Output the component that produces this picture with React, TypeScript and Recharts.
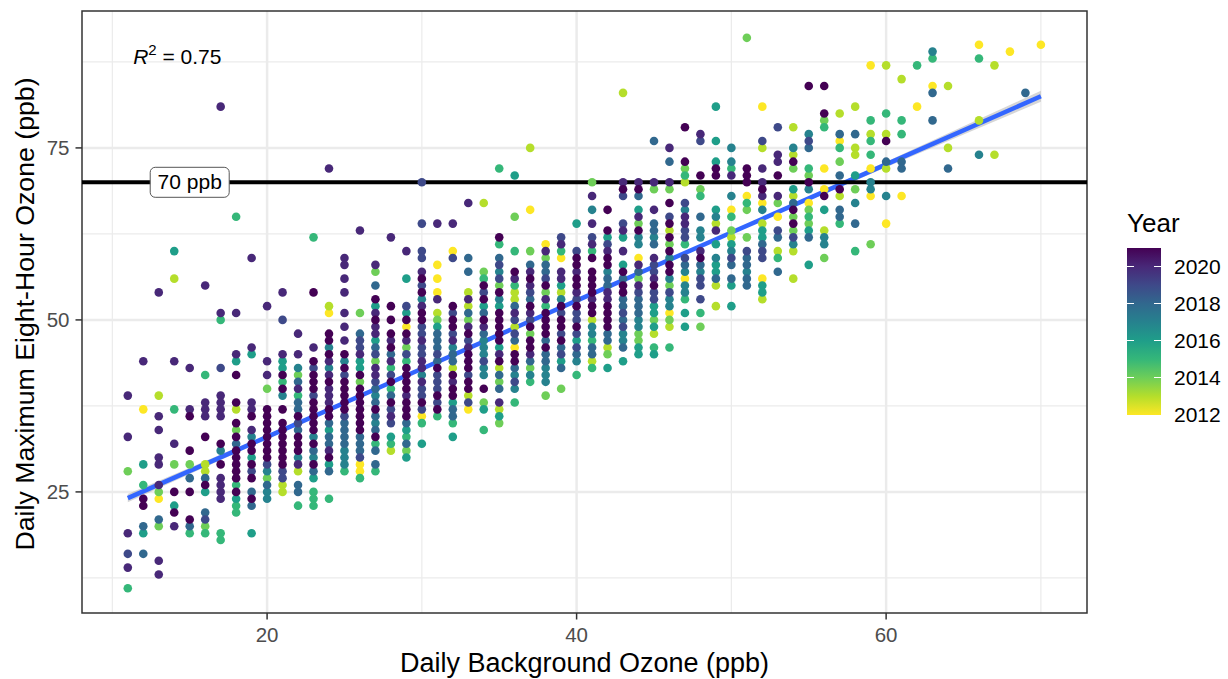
import React from "react";
import {
  ComposedChart,
  Scatter,
  Line,
  Area,
  XAxis,
  YAxis,
  CartesianGrid,
  ReferenceLine,
  ReferenceDot,
  ReferenceArea,
} from "recharts";

const FONT = "'Liberation Sans', Arial, sans-serif";

const years = [2012, 2013, 2014, 2015, 2016, 2017, 2018, 2019, 2020, 2021];
const viridis = ["#FDE725", "#B5DE2B", "#6ECE58", "#35B779", "#1F9E89", "#26828E", "#31688E", "#3E4989", "#482878", "#440154"];
const legendYears = [2020, 2018, 2016, 2014, 2012];

const xTicks = [20, 40, 60];
const xMinor = [10, 30, 50, 70];
const yTicks = [25, 50, 75];
const yMinor = [12.5, 37.5, 62.5, 87.5];

// linear fit and its confidence ribbon
const fitX = [11, 20, 30, 40, 50, 60, 70];
const fitY = [24.1, 33, 42.9, 52.8, 62.7, 72.6, 82.5];
const fitLow = [23.5, 32.7, 42.7, 52.65, 62.5, 72.2, 81.7];
const fitHigh = [24.7, 33.3, 43.1, 52.95, 62.9, 73, 83.3];

// one list per background ozone value: [two digit year, ...daily max values]
const x11 = [[20, 39, 33, 19, 14], [14, 28], [19, 16], [15, 11]];
const x12 = [[20, 44], [12, 37], [16, 29, 19], [15, 26], [21, 24, 23], [18, 20, 16]];
const x13 = [[13, 39], [20, 54, 36, 34, 30, 29, 26, 15, 13], [14, 25, 20], [12, 24], [18, 21]];
const x14 = [[16, 60, 23], [13, 56], [20, 44, 32, 20], [15, 37], [14, 29], [21, 25, 22]];
const x15 = [[20, 43, 37], [21, 36, 31, 25, 21], [14, 29], [18, 27, 20], [15, 19]];
const x16 = [[20, 55, 38, 37, 36], [15, 42, 19], [21, 33, 26], [13, 29, 28], [18, 27, 22], [16, 25], [19, 21], [14, 20]];
const x17 = [[20, 81, 51, 39, 38, 37, 36, 27, 26, 25, 24], [15, 50, 19, 18], [19, 43], [21, 32, 29], [17, 31]];
const x18 = [[15, 65, 26, 23, 22], [20, 51, 45], [16, 44, 24], [21, 42, 38, 35, 33, 31, 30, 29, 28, 27, 25], [13, 37], [14, 34], [18, 32]];
const x19 = [[20, 59, 46, 38, 37, 34], [16, 45, 30, 19], [21, 36, 32, 31, 29, 27, 24], [17, 33], [19, 28], [18, 25, 23]];
const x20 = [[20, 52, 44, 42], [14, 40, 27], [21, 37, 36, 35, 34, 33, 32, 31, 30], [19, 29], [17, 28, 25, 24], [18, 26]];
const x21 = [[20, 54, 45], [19, 50, 28, 27], [16, 44, 43], [21, 42, 40, 37, 35, 34, 33, 32, 31, 30, 29], [15, 41], [17, 39], [13, 26, 25]];
const x22 = [[20, 48, 45, 40, 29], [17, 43, 30], [14, 42], [18, 41, 38, 37, 34, 26, 25], [15, 39, 23], [21, 36, 33, 32, 31], [19, 35], [13, 28]];
const x23 = [[15, 62, 25, 24, 23], [21, 54, 44, 42, 41, 40, 38, 37, 36, 35, 34, 32, 29], [20, 46], [19, 43, 39], [17, 33, 30], [18, 31, 28], [16, 27]];
const x24 = [[20, 72, 44, 42, 40, 39, 38, 31], [13, 52], [12, 51], [21, 48, 47, 45, 41, 37, 36, 30], [17, 46, 43], [18, 35, 33, 32, 28], [16, 34, 29], [15, 24]];
const x25 = [[20, 59, 58, 56, 54, 51, 49, 47], [21, 45, 43, 41, 40, 39, 38, 37], [17, 44, 31, 30, 29], [19, 42, 36], [18, 35, 34, 33, 32], [15, 28]];
const x26 = [[20, 63, 45], [14, 51, 41], [18, 48, 33, 32, 31], [19, 47, 46, 30], [16, 44, 43], [21, 42, 40, 39, 38, 37, 36, 35, 34], [12, 29, 28], [15, 27]];
const x27 = [[20, 58, 51, 49, 48, 43, 42], [14, 57, 44], [18, 55, 46, 40, 38, 36, 34, 31, 29], [21, 53, 50, 37, 33], [16, 52, 47], [19, 45, 41], [17, 39, 35], [15, 32, 28]];
const x28 = [[20, 62, 47, 44, 36], [21, 52, 50, 48, 46, 41, 38], [18, 45, 39], [15, 43, 40, 32], [19, 42, 37, 35], [16, 33], [13, 31]];
const x29 = [[20, 60, 47, 39], [16, 56, 51, 34, 30], [19, 52, 45], [21, 50, 48, 43, 42, 41, 40, 38, 37, 36], [12, 49], [14, 46, 31], [15, 44, 33], [18, 35, 32]];
const x30 = [[19, 70, 64, 60, 59, 55, 49, 48, 46, 45, 40, 39, 37], [20, 57, 52, 47, 44, 43, 41], [21, 56, 54, 51, 50, 38], [17, 53, 42], [12, 36], [15, 35], [16, 32]];
const x31 = [[20, 64, 53], [12, 58, 56, 54], [13, 51], [14, 50], [16, 49], [18, 48, 47, 46, 44], [19, 45, 42, 41, 40, 38], [21, 43, 39, 37], [15, 36]];
const x32 = [[20, 64, 47, 41], [12, 60], [19, 59, 51, 48], [21, 52, 50, 49, 42, 40, 39], [17, 46], [18, 45, 44, 37, 36], [13, 43], [16, 38, 33], [15, 35]];
const x33 = [[20, 67, 53, 49, 46], [18, 59, 57, 51], [13, 54, 52, 39], [14, 50], [21, 48, 45, 44, 43, 41, 40], [19, 47, 42, 38], [12, 37]];
const x34 = [[13, 67], [14, 57, 38], [15, 56, 34], [21, 55, 53, 50, 40], [19, 54, 44], [16, 52, 37], [18, 51, 48], [20, 49], [17, 47, 46, 45, 43, 42]];
const x35 = [[15, 72, 61], [21, 62, 54, 51, 50, 49, 48, 47, 44], [18, 59, 42, 40], [19, 58, 56], [17, 57, 53], [14, 55, 41, 35], [16, 52, 46, 36], [20, 45, 38], [13, 43, 37]];
const x36 = [[16, 71], [14, 65], [15, 60, 55, 38], [21, 57, 45, 44], [20, 56, 51], [13, 54, 53, 49], [18, 52, 47, 43], [19, 50, 48, 41], [12, 46], [17, 42, 40]];
const x37 = [[13, 75], [12, 66], [14, 60, 48, 43], [18, 58, 53, 44], [20, 57, 55, 51, 45], [21, 56, 52, 49, 47, 46], [19, 54, 50], [17, 42], [15, 41]];
const x38 = [[12, 61], [20, 60, 53], [14, 59, 54, 39], [18, 58, 57, 47, 45, 44], [19, 56], [21, 55, 51, 50, 49, 48, 46], [15, 52], [17, 43, 42, 41]];
const x39 = [[19, 62, 51, 48, 45], [20, 61, 57, 56], [15, 60], [12, 59], [16, 55, 44], [13, 54], [17, 53], [21, 52, 50, 49, 47], [18, 46, 43], [14, 40]];
const x40 = [[16, 64, 47], [19, 60, 53, 51, 50, 48, 46], [21, 59, 58, 56, 55, 52, 49], [20, 57, 54], [18, 45], [17, 44], [15, 42]];
const x41 = [[14, 70], [20, 68, 64, 61, 53], [17, 66, 49, 48], [19, 62], [15, 60, 47, 43], [21, 59, 57, 56, 55, 54, 52, 51], [13, 50, 44], [18, 46, 45]];
const x42 = [[21, 66, 63, 59, 58, 52, 51, 50, 49], [16, 62, 43], [19, 61], [20, 60, 54, 53], [17, 57], [18, 56, 55, 48, 47], [13, 46], [14, 45]];
const x43 = [[13, 83], [20, 70, 63, 60], [21, 69, 57, 55, 54], [19, 68, 64, 51, 49], [16, 62, 58, 44], [18, 56, 53, 52, 50, 46], [17, 48, 47]];
const x44 = [[20, 70, 65, 58, 55], [21, 69, 63], [18, 68, 57, 53, 52, 51], [16, 66, 46, 45], [14, 64, 56, 48, 47], [17, 62, 61, 50, 49], [12, 59], [19, 54]];
const x45 = [[18, 76, 64, 63, 61], [20, 70, 66, 59, 56], [14, 69, 50], [17, 62], [19, 58, 57, 54, 53], [21, 55], [16, 52, 51, 49, 45], [13, 48], [15, 46]];
const x46 = [[20, 75, 70], [18, 73], [14, 69, 61, 55, 50], [21, 67, 64, 62, 60, 58, 57], [19, 65, 54], [13, 63, 49], [17, 59, 56, 53, 52], [12, 51], [15, 46]];
const x47 = [[21, 78, 73], [14, 72], [15, 71, 61, 53], [13, 70], [19, 67, 63, 62, 59], [17, 66, 57, 55, 54], [20, 65, 64], [18, 58], [12, 56], [16, 51, 49]];
const x48 = [[20, 77, 60], [19, 76, 56, 55, 53], [21, 71, 59], [14, 69, 49], [15, 68, 51], [18, 65, 58], [17, 63, 62, 57]];
const x49 = [[16, 81, 76, 73, 66, 61, 58, 57], [21, 72, 71], [17, 65, 59], [13, 64, 55, 52], [20, 63], [18, 56]];
const x50 = [[17, 75, 73, 68, 60], [15, 72, 65], [20, 71], [12, 66], [14, 63], [13, 62], [16, 61, 55, 52], [19, 59], [18, 58, 56]];
const x51 = [[14, 91, 66, 62], [21, 72, 71, 70], [12, 68], [15, 67], [19, 60], [18, 59, 58, 56, 55], [17, 57]];
const x52 = [[12, 81, 67, 56], [19, 76, 60, 59], [13, 75, 64, 53], [20, 72, 70, 68], [21, 69], [17, 66], [16, 63, 62, 55, 54], [18, 61]];
const x53 = [[19, 78, 63], [20, 74, 73, 68], [21, 71], [14, 67], [12, 65], [18, 62, 57], [13, 60], [15, 59]];
const x54 = [[13, 78, 74, 68, 60, 56], [17, 75, 61], [21, 73, 66, 64], [14, 72, 65, 63], [16, 69], [18, 67], [19, 62]];
const x55 = [[21, 84, 70], [17, 77, 69], [19, 76], [18, 75, 62], [15, 72, 65], [14, 71, 66, 64], [12, 67], [16, 63, 58]];
const x56 = [[21, 84, 80, 68], [14, 79, 59], [15, 78], [12, 72, 69], [16, 66], [13, 63], [17, 62, 61]];
const x57 = [[13, 80, 68], [18, 77, 71, 66, 65], [12, 76], [15, 75, 64], [14, 73], [21, 69]];
const x58 = [[13, 81, 75, 74], [18, 77, 64], [16, 71], [14, 69], [17, 67], [15, 60]];
const x59 = [[12, 87, 72, 68], [15, 79, 76, 74], [13, 77], [17, 70, 69], [14, 61]];
const x60 = [[13, 87, 77, 72], [15, 80], [21, 76], [18, 73], [17, 68], [12, 64]];
const x61 = [[13, 85], [15, 79, 77], [18, 73, 72], [12, 68]];
const x62 = [[15, 87], [12, 81]];
const x63 = [[17, 89], [15, 88], [12, 84], [18, 83, 79]];
const x64 = [[13, 84, 75], [18, 72]];
const x66 = [[12, 90], [15, 88], [13, 79], [17, 74]];
const x67 = [[13, 87, 74]];
const x68 = [[12, 89]];
const x69 = [[18, 83]];
const x70 = [[12, 90]];

const columns: [number, number[][]][] = [
  [11, x11], [12, x12], [13, x13], [14, x14], [15, x15], [16, x16], [17, x17], [18, x18], [19, x19], [20, x20],
  [21, x21], [22, x22], [23, x23], [24, x24], [25, x25], [26, x26], [27, x27], [28, x28], [29, x29], [30, x30],
  [31, x31], [32, x32], [33, x33], [34, x34], [35, x35], [36, x36], [37, x37], [38, x38], [39, x39], [40, x40],
  [41, x41], [42, x42], [43, x43], [44, x44], [45, x45], [46, x46], [47, x47], [48, x48], [49, x49], [50, x50],
  [51, x51], [52, x52], [53, x53], [54, x54], [55, x55], [56, x56], [57, x57], [58, x58], [59, x59], [60, x60],
  [61, x61], [62, x62], [63, x63], [64, x64], [66, x66], [67, x67], [68, x68], [69, x69], [70, x70],
];

const pointsForYear = (year: number) => {
  const out: { x: number; y: number }[] = [];
  columns.forEach(([x, rows]) => {
    rows.forEach(([yy, ...values]) => {
      if (2000 + yy === year) values.forEach((y) => out.push({ x, y }));
    });
  });
  return out;
};

const fitData = fitX.map((x, i) => ({ x, fit: fitY[i], band: [fitLow[i], fitHigh[i]] }));

const Dot = (props: any) => <circle cx={props.cx} cy={props.cy} r={4.3} fill={props.fill} />;

const ThresholdLabel = (props: any) => (
  <g>
    <rect x={props.cx - 39.5} y={props.cy - 15} width={79} height={30} rx={5} fill="#fff" stroke="#555" strokeWidth={1} />
    <text x={props.cx} y={props.cy + 7} textAnchor="middle" fontSize={21} fontFamily={FONT} fill="#000">
      70 ppb
    </text>
  </g>
);

const RSquared = (props: any) => (
  <text x={props.cx} y={props.cy} textAnchor="middle" fontSize={21} fontFamily={FONT} fill="#000">
    <tspan fontStyle="italic">R</tspan>
    <tspan fontSize={15} dy={-9}>2</tspan>
    <tspan dy={9}> = 0.75</tspan>
  </text>
);

const YearLegend = () => (
  <div style={{ position: "absolute", left: 0, top: 0, fontFamily: FONT }}>
    <div style={{ position: "absolute", left: 1127, top: 208, fontSize: 26, lineHeight: "30px", color: "#000" }}>Year</div>
    <div
      style={{
        position: "absolute",
        left: 1127,
        top: 248,
        width: 34,
        height: 167,
        background: `linear-gradient(to top, ${viridis.join(", ")})`,
      }}
    />
    {legendYears.map((yr) => {
      const top = 415 - ((yr - 2012) / 9) * 167;
      return (
        <React.Fragment key={yr}>
          <div style={{ position: "absolute", left: 1127, top: top - 0.5, width: 7, height: 1, background: "#fff" }} />
          <div style={{ position: "absolute", left: 1154, top: top - 0.5, width: 7, height: 1, background: "#fff" }} />
          <div style={{ position: "absolute", left: 1174, top: top - 12, fontSize: 21, lineHeight: "24px", color: "#000" }}>{yr}</div>
        </React.Fragment>
      );
    })}
  </div>
);

export default function App() {
  const tickStyle = { fill: "#4D4D4D", fontSize: 20.5, fontFamily: FONT };
  const tickLine = { stroke: "#333", strokeWidth: 1.5 };
  return (
    <div style={{ position: "absolute", left: 0, top: 0, width: 1228, height: 679, background: "#fff", overflow: "hidden" }}>
      <ComposedChart
        width={1228}
        height={679}
        data={fitData}
        margin={{ top: 11, right: 141, bottom: 0, left: 0 }}
      >
        <CartesianGrid stroke="#EBEBEB" strokeWidth={1.2} horizontalValues={yMinor} verticalValues={xMinor} />
        <CartesianGrid stroke="#EBEBEB" strokeWidth={2.5} horizontalValues={yTicks} verticalValues={xTicks} />
        <XAxis
          type="number"
          dataKey="x"
          domain={[8.04, 72.98]}
          ticks={xTicks}
          allowDataOverflow
          height={66}
          tick={tickStyle}
          tickSize={6.5}
          tickMargin={8}
          tickLine={tickLine}
          axisLine={false}
          label={{ value: "Daily Background Ozone (ppb)", position: "insideBottom", offset: 7, fontSize: 27, fontFamily: FONT, fill: "#000" }}
        />
        <YAxis
          type="number"
          domain={[7.4, 94.9]}
          ticks={yTicks}
          allowDataOverflow
          width={82}
          tick={tickStyle}
          tickSize={6.5}
          tickMargin={6}
          tickLine={tickLine}
          axisLine={false}
          label={{ value: "Daily Maximum Eight-Hour Ozone (ppb)", angle: -90, position: "center", dx: -16, dy: 2, fontSize: 26.7, fontFamily: FONT, fill: "#000" }}
        />
        {years.map((yr, i) => (
          <Scatter
            key={yr}
            data={pointsForYear(yr)}
            dataKey="y"
            fill={viridis[i]}
            shape={Dot}
            isAnimationActive={false}
          />
        ))}
        <Area dataKey="band" stroke="none" fill="#999" fillOpacity={0.4} isAnimationActive={false} dot={false} activeDot={false} />
        <Line dataKey="fit" stroke="#3366FF" strokeWidth={4.5} dot={false} activeDot={false} isAnimationActive={false} />
        <ReferenceLine y={70} stroke="#000" strokeWidth={4} />
        <ReferenceDot x={15} y={70} shape={ThresholdLabel} />
        <ReferenceDot x={14.2} y={87.2} shape={RSquared} />
        <ReferenceArea x1={8.04} x2={72.98} y1={7.4} y2={94.9} fill="none" stroke="#333" strokeWidth={1.5} />
      </ComposedChart>
      <YearLegend />
    </div>
  );
}
